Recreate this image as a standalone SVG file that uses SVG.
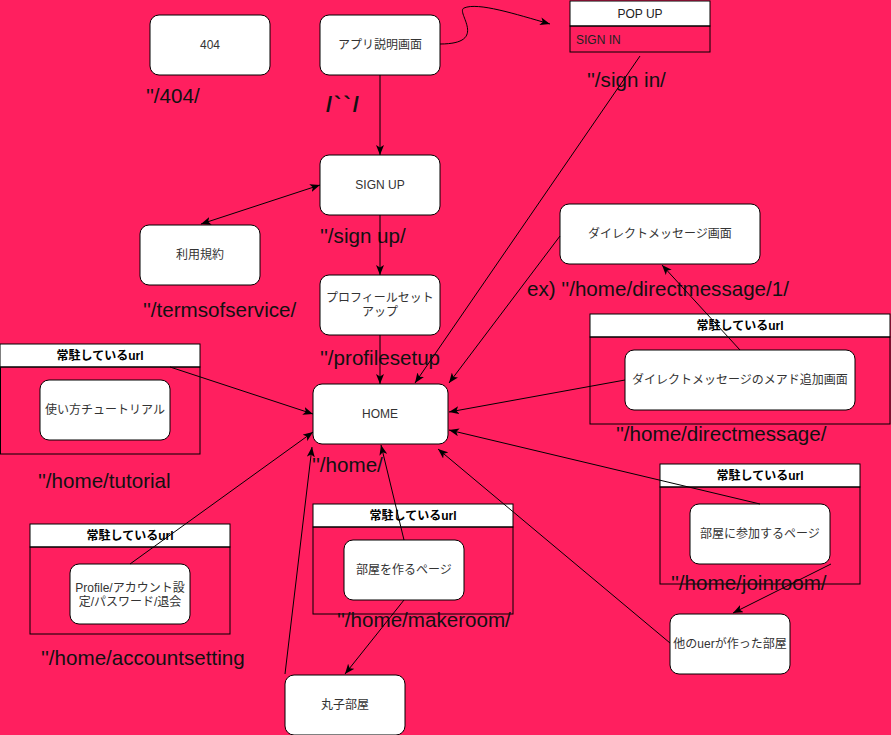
<svg xmlns="http://www.w3.org/2000/svg" width="891" height="735" viewBox="0 0 891 735">
<style>
.n{fill:#fff;stroke:#000;stroke-width:1}
.lane{fill:none;stroke:#000;stroke-width:1}
.hdr{fill:#fff;stroke:#000;stroke-width:1}
.t{font-family:"Liberation Sans","Noto Sans CJK JP",sans-serif;font-size:12px;fill:#333;text-anchor:middle}
.h{font-family:"Liberation Sans","Noto Sans CJK JP",sans-serif;font-size:12px;font-weight:bold;fill:#000;text-anchor:middle}
.lbl{font-family:"Liberation Sans","Noto Sans CJK JP",sans-serif;font-size:20.6px;fill:#111}
.c{fill:none;stroke:#000;stroke-width:1}
</style>
<defs>
<marker id="a" viewBox="0 0 10 8" refX="10" refY="4" markerWidth="10" markerHeight="8" markerUnits="userSpaceOnUse" orient="auto-start-reverse">
<path d="M0,0 L10,4 L0,8 L2.5,4 Z" fill="#000"/>
</marker>
</defs>
<rect width="891" height="735" fill="#FF1F5F"/>

<g id="n404"><rect class="n" x="150" y="15" width="120" height="60" rx="9"/><text class="t" x="210" y="49">404</text></g>
<g id="napp"><rect class="n" x="320" y="15" width="120" height="60" rx="9"/><text class="t" x="380" y="49">アプリ説明画面</text></g>
<g id="npopup"><rect class="hdr" x="570" y="1" width="140" height="25"/><rect class="lane" x="570" y="26" width="140" height="26"/><text class="t" x="640" y="18" style="fill:#222">POP UP</text><text class="t" x="576" y="44" style="text-anchor:start;fill:#222">SIGN IN</text></g>
<g id="nsignup"><rect class="n" x="320" y="155" width="120" height="60" rx="9"/><text class="t" x="380" y="189">SIGN UP</text></g>
<g id="nterms"><rect class="n" x="140" y="225" width="120" height="60" rx="9"/><text class="t" x="200" y="259">利用規約</text></g>
<g id="nprofile"><rect class="n" x="320" y="275" width="120" height="60" rx="9"/><text class="t" x="380" y="302">プロフィールセット</text><text class="t" x="380" y="316">アップ</text></g>
<g id="nhome"><rect class="n" x="313" y="384" width="135" height="60" rx="9"/><text class="t" x="380" y="418">HOME</text></g>
<g id="ndm"><rect class="n" x="560" y="204" width="200" height="60" rx="9"/><text class="t" x="660" y="238">ダイレクトメッセージ画面</text></g>
<g id="ndmlane"><rect class="hdr" x="590" y="314" width="300" height="23"/><rect class="lane" x="590" y="337" width="300" height="87"/><text class="h" x="740" y="330">常駐しているurl</text>
<rect class="n" x="625" y="350" width="230" height="60" rx="9"/><text class="t" x="740" y="384">ダイレクトメッセージのメアド追加画面</text></g>
<g id="ntutorial"><rect class="hdr" x="0" y="344" width="200" height="23"/><rect class="lane" x="0.5" y="367" width="199.5" height="87"/><text class="h" x="100" y="360">常駐しているurl</text>
<rect class="n" x="40" y="380" width="130" height="60" rx="9"/><text class="t" x="105" y="414">使い方チュートリアル</text></g>
<g id="naccount"><rect class="hdr" x="30" y="524" width="200" height="23"/><rect class="lane" x="30" y="547" width="200" height="87"/><text class="h" x="130" y="540">常駐しているurl</text>
<rect class="n" x="70" y="564" width="120" height="60" rx="9"/><text class="t" x="130" y="592">Profile/アカウント設</text><text class="t" x="130" y="606">定/パスワード/退会</text></g>
<g id="nmakeroom"><rect class="hdr" x="313" y="504" width="200" height="23"/><rect class="lane" x="313" y="527" width="200" height="87"/><text class="h" x="413" y="520">常駐しているurl</text>
<rect class="n" x="344" y="540" width="120" height="60" rx="9"/><text class="t" x="404" y="574">部屋を作るページ</text></g>
<g id="nmaruko"><rect class="n" x="285" y="675" width="120" height="60" rx="9"/><text class="t" x="345" y="709">丸子部屋</text></g>
<g id="njoinroom"><rect class="hdr" x="660" y="464" width="200" height="23"/><rect class="lane" x="660" y="487" width="200" height="97"/><text class="h" x="760" y="480">常駐しているurl</text>
<rect class="n" x="690" y="504" width="140" height="60" rx="9"/><text class="t" x="760" y="538">部屋に参加するページ</text></g>
<g id="nother"><rect class="n" x="670" y="614" width="120" height="60" rx="9"/><text class="t" x="730" y="648">他のuerが作った部屋</text></g>

<g id="labels">
<text class="lbl" x="146" y="103">''/404/</text>
<text class="lbl" x="326" y="112" style="font-weight:bold;font-size:22px;letter-spacing:2px">/``/</text>
<text class="lbl" x="587" y="87">''/sign in/</text>
<text class="lbl" x="320" y="243">''/sign up/</text>
<text class="lbl" x="143" y="317">''/termsofservice/</text>
<text class="lbl" x="320" y="365">''/profilesetup</text>
<text class="lbl" x="527" y="296">ex) ''/home/directmessage/1/</text>
<text class="lbl" x="616" y="441">''/home/directmessage/</text>
<text class="lbl" x="38" y="488">''/home/tutorial</text>
<text class="lbl" x="312" y="472">''/home/</text>
<text class="lbl" x="337" y="627">''/home/makeroom/</text>
<text class="lbl" x="41" y="665">''/home/accountsetting</text>
<text class="lbl" x="671" y="590">''/home/joinroom/</text>
</g>

<g id="connectors">
<path class="c" d="M440,44 C490,44 455,12 464,8 C478,2 515,14 550,24" marker-end="url(#a)"/>
<path class="c" d="M380,75 L380,155" marker-end="url(#a)"/>
<path class="c" d="M201,224 L320,185" marker-start="url(#a)" marker-end="url(#a)"/>
<path class="c" d="M380,215 L380,275" marker-end="url(#a)"/>
<path class="c" d="M380,335 L380,384" marker-end="url(#a)"/>
<path class="c" d="M640,56 L415,383" marker-end="url(#a)"/>
<path class="c" d="M560,236 L449,383" marker-end="url(#a)"/>
<path class="c" d="M740,350 L662,265" marker-end="url(#a)"/>
<path class="c" d="M625,380 L449,412" marker-end="url(#a)"/>
<path class="c" d="M760,504 L449,430" marker-end="url(#a)"/>
<path class="c" d="M831,564 L733,613" marker-end="url(#a)"/>
<path class="c" d="M670,643 L438,449" marker-end="url(#a)"/>
<path class="c" d="M404,540 L381,445" marker-end="url(#a)"/>
<path class="c" d="M404,600 L345,674" marker-end="url(#a)"/>
<path class="c" d="M285,674 L312,447" marker-end="url(#a)"/>
<path class="c" d="M130,564 L313,432" marker-end="url(#a)"/>
<path class="c" d="M170,367 L313,414" marker-end="url(#a)"/>
</g>
</svg>
